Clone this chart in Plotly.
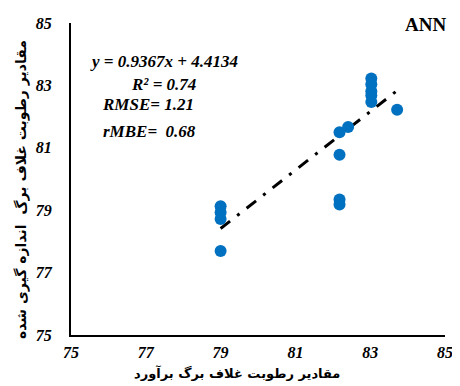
import plotly.graph_objects as go

# Data (estimated / predicted vs measured)
predicted = [79.0, 79.0, 79.0, 79.0, 82.18, 82.18, 82.18, 82.18, 82.41,
             83.03, 83.03, 83.03, 83.03, 83.03, 83.72]
measured = [79.13, 78.93, 78.72, 77.69, 81.5, 80.78, 79.34, 79.18, 81.67,
            83.22, 83.04, 82.81, 82.68, 82.47, 82.22]
slope = 0.9367
intercept = 4.4134
ticks = [75, 77, 79, 81, 83, 85]
stats_lines = ["y = 0.9367x + 4.4134", "R² = 0.74", "RMSE= 1.21", "rMBE=  0.68"]

x_title = "مقادیر رطوبت غلاف برگ برآورد"
y_title = "مقادیر رطوبت غلاف برگ  اندازه گیری شده"

serif = "Liberation Serif, Times New Roman, serif"
fa = "DejaVu Sans, Noto Sans, sans-serif"

W, H = 460, 386
L, R, T, B = 63, 23, 15, 59
PW, PH = W - L - R, H - T - B


def px_x(px):
    return (px - L) / PW


def px_y(py):
    return 1 - (py - T) / PH


xmin, xmax = min(predicted), max(predicted)
trend_x = [xmin, xmax]
trend_y = [slope * v + intercept for v in trend_x]

fig = go.Figure()
fig.add_trace(go.Scatter(x=trend_x, y=trend_y, mode="lines",
                         line=dict(color="black", width=3, dash="12px,9px,3px,9px"),
                         hoverinfo="skip", showlegend=False))
fig.add_trace(go.Scatter(x=predicted, y=measured, mode="markers",
                         marker=dict(color="#0070C0", size=12),
                         showlegend=False))

tickfont = dict(family=serif, size=16, color="black", weight="bold", style="italic")

fig.update_layout(
    width=W, height=H,
    margin=dict(l=L, r=R, t=T, b=B, autoexpand=False),
    paper_bgcolor="white", plot_bgcolor="white",
    xaxis=dict(range=[75, 85], tickvals=ticks, ticktext=[str(t) for t in ticks],
               showgrid=False, zeroline=False, showline=True, linecolor="black",
               linewidth=2, ticks="", tickfont=tickfont, ticklabelstandoff=2,
               automargin=False),
    yaxis=dict(range=[75, 85], tickvals=ticks, ticktext=[str(t) for t in ticks],
               showgrid=False, zeroline=False, showline=True, linecolor="black",
               linewidth=2, ticks="", tickfont=tickfont, ticklabelstandoff=14,
               automargin=False),
)

fig.add_annotation(text=x_title, xref="paper", yref="paper",
                   x=px_x(229), y=px_y(365), xanchor="center", yanchor="middle",
                   showarrow=False,
                   font=dict(family=fa, size=13, color="black", weight="bold"))
fig.add_annotation(text=y_title, xref="paper", yref="paper", textangle=-90,
                   x=px_x(13), y=px_y(182), xanchor="center", yanchor="middle",
                   showarrow=False,
                   font=dict(family=fa, size=14, color="black", weight="bold"))

stat_pos = [(156, 53), (155, 77), (140, 97), (141, 123)]
for txt, (px, py) in zip(stats_lines, stat_pos):
    fig.add_annotation(text=txt, xref="paper", yref="paper",
                       x=px_x(px), y=px_y(py),
                       xanchor="center", yanchor="middle", showarrow=False,
                       font=dict(family=serif, size=17, color="black",
                                 weight="bold", style="italic"))

fig.add_annotation(text="ANN", xref="paper", yref="paper",
                   x=px_x(440), y=px_y(17),
                   xanchor="right", yanchor="middle", showarrow=False,
                   font=dict(family=serif, size=19, color="black", weight="bold"))

fig.write_html("out.html")
